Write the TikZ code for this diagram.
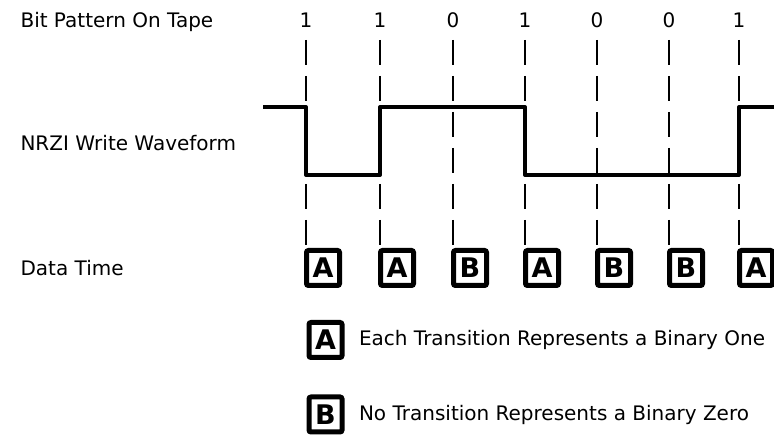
\documentclass[tikz,border=0pt]{standalone}
\usepackage{fontspec}
\setmainfont{DejaVu Sans}
\usetikzlibrary{positioning}

\begin{document}
\begin{tikzpicture}[
    x=1pt, y=-1pt,
    lbl/.style={anchor=west, font=\fontsize{20}{24}\selectfont},
    bit/.style={font=\fontsize{20}{24}\selectfont},
    cell/.style={draw, line width=5pt, rounded corners=2pt,
                 minimum width=33pt, minimum height=35pt, inner sep=0pt,
                 font=\fontsize{27}{27}\selectfont\bfseries},
    tick/.style={line width=2pt, dash pattern=on 25pt off 11pt},
    wave/.style={line width=4pt, line join=round},
  ]
  \useasboundingbox (0,0) rectangle (774,435);

  % row titles
  \node[lbl] (title) at (17,22) {Bit Pattern On Tape};
  \node[lbl] (nrzi) at (17,143) {NRZI Write Waveform};
  \node[lbl] (dtime) at (17,268) {Data Time};

  % one column per bit cell
  \foreach \i/\b/\c/\x in {1/1/A/306, 2/1/A/380, 3/0/B/453, 4/1/A/525,
                           5/0/B/597, 6/0/B/669, 7/1/A/739} {
    \node[bit] (bit\i) at (\x,20) {\b};
    \coordinate (top\i) at (\x,40);
    \node[cell] (cell\i) at (\x+17,268) {\c};
    \draw[tick] (top\i) -- (top\i |- cell\i.north);
  }

  % waveform levels
  \coordinate (hi) at (263,107);
  \coordinate (lo) at (263,175);
  \draw[wave] (hi) -- (bit1 |- hi) -- (bit1 |- lo) -- (bit2 |- lo)
    -- (bit2 |- hi) -- (bit4 |- hi) -- (bit4 |- lo) -- (bit7 |- lo)
    -- (bit7 |- hi) -- (774,107);

  % key
  \node[cell] (keyA) at (325.5,340) {A};
  \node[lbl, right=11pt of keyA] (keyAtxt) {Each Transition Represents a Binary One};
  \node[cell] (keyB) at (325.5,414.5) {B};
  \node[lbl, right=11pt of keyB] (keyBtxt) {No Transition Represents a Binary Zero};
\end{tikzpicture}
\end{document}
